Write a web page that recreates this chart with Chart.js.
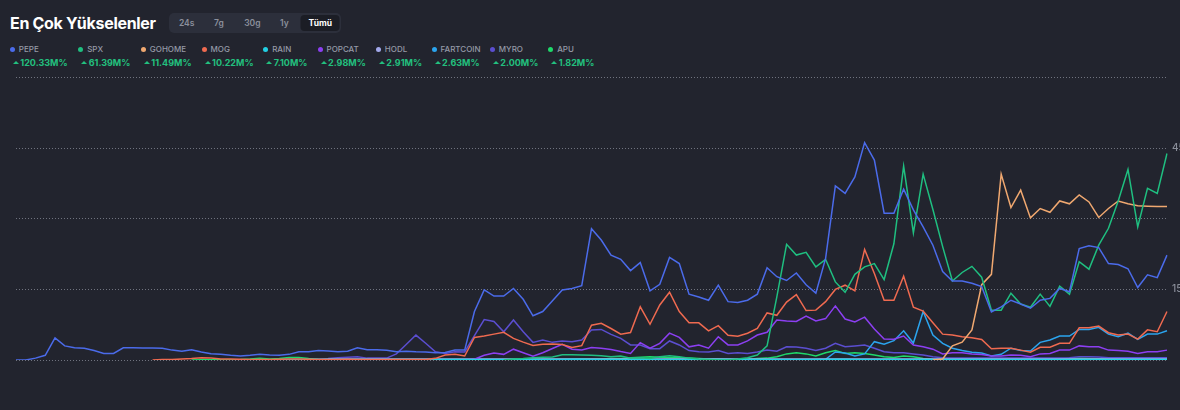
<!DOCTYPE html>
<html lang="tr">
<head>
<meta charset="utf-8">
<script src="https://cdn.jsdelivr.net/npm/chart.js@4/dist/chart.umd.min.js"></script>
<style>
  html, body { margin: 0; padding: 0; }
  body {
    width: 1180px; height: 410px; overflow: hidden; position: relative;
    background: #22242e; font-family: Inter, "Noto Sans", sans-serif; color: #fff;
  }
  .title { position: absolute; left: 10px; top: 12px; font-size: 16px; font-weight: 700; line-height: 22px; letter-spacing: -0.3px; }
  .tabs { position: absolute; left: 169px; top: 13px; width: 172px; height: 20px; background: #2c2f3b; border-radius: 5px; }
  .tab { position: absolute; top: 0; height: 20px; line-height: 20px; font-size: 8.5px; font-weight: 600; color: #8b8f9c; transform: translateX(-50%); }
  .tab.active { top: 2px; height: 16px; line-height: 16px; width: 39px; text-align: center; background: #1b1d25; border-radius: 4px; color: #fff; font-weight: 700; }
  .item { position: absolute; top: 44px; height: 26px; }
  .dot { position: absolute; left: -2.5px; top: 2.5px; width: 5px; height: 5px; border-radius: 50%; }
  .name { position: absolute; left: 6.5px; top: 0; font-size: 8px; line-height: 10px; font-weight: 500; color: #959aa7; white-space: nowrap; }
  .val { position: absolute; left: 8px; top: 13px; font-size: 9px; line-height: 12px; font-weight: 700; color: #22c07f; white-space: nowrap; }
  .caret { position: absolute; left: 0.5px; top: 17px; width: 0; height: 0; border-left: 3px solid transparent; border-right: 3px solid transparent; border-bottom: 3.5px solid #22c07f; }
  #wrap { position: absolute; left: 0; top: 70px; width: 1200px; height: 300px; }
</style>
</head>
<body>
<div class="title">En Çok Yükselenler</div>
<div class="tabs" id="tabs"></div>
<div id="legend"></div>
<div id="wrap"><canvas id="chart"></canvas></div>
<script>
const periods = ['24s', '7g', '30g', '1y', 'Tümü'];
const periodX = [17.7, 50, 83.3, 115.3, 151.3];

const names = ['PEPE', 'SPX', 'GOHOME', 'MOG', 'RAIN', 'POPCAT', 'HODL', 'FARTCOIN', 'MYRO', 'APU'];
const changes = ['120.33M%', '61.39M%', '11.49M%', '10.22M%', '7.10M%', '2.98M%', '2.91M%', '2.63M%', '2.00M%', '1.82M%'];
const colors = ['#4b6bea', '#1fbf80', '#f0a870', '#ef6a50', '#22cfe3', '#8c3ff2', '#a3a9ec', '#2ba4ee', '#5b4ed0', '#1ed96a'];
const legendX = [12.3, 80.7, 143.3, 204, 265.7, 320, 378.3, 434, 492.3, 550.7];

const yTicks = [0, 15, 30, 45, 60];
const yLabels = [15, 45];

const pepe = [
  0, 0, 0.4, 1.0, 4.7, 3.0, 2.6, 2.5, 2.0, 1.4,
  1.4, 2.6, 2.6, 2.55, 2.55, 2.5, 2.1, 1.85, 2.2, 1.7,
  1.35, 1.2, 1.0, 0.85, 1.0, 1.2, 1.05, 1.0, 1.2, 1.75,
  1.75, 2.0, 1.9, 1.75, 1.85, 2.6, 2.2, 2.2, 2.05, 1.75,
  1.85, 1.75, 1.7, 1.55, 1.6, 2.1, 2.1, 10.3, 14.9, 13.6,
  13.6, 15.2, 12.9, 9.4, 10.3, 12.6, 14.9, 15.2, 15.8, 27.9,
  25.5, 22.3, 21.4, 19.0, 20.7, 14.7, 16.1, 21.8, 20.5, 14.0,
  13.4, 12.7, 15.9, 12.4, 12.2, 12.7, 14.0, 19.6, 17.7, 16.9,
  18.5, 16.0, 14.2, 21.6, 37.0, 35.4, 38.9, 46.2, 42.5, 31.2,
  31.2, 36.3, 31.9, 28.3, 24.4, 18.8, 16.8, 16.8, 16.3, 15.6,
  10.2, 11.3, 12.7, 11.9, 11.0, 12.7, 13.1, 15.2, 14.5, 23.7,
  24.3, 23.9, 20.5, 20.3, 19.4, 15.4, 18.1, 17.5, 22.3
];
const spx = [
  null, null, null, null, null, null, null, null, null, null,
  null, null, null, null, null, null, null, null, null, null,
  null, null, null, null, null, null, null, null, null, null,
  null, null, null, null, null, null, null, null, null, null,
  null, null, null, null, null, null, null, null, null, null,
  0, 0.2, 0.3, 0.5, 0.6, 0.65, 1.1, 1.1, 1.05, 1.0,
  0.9, 0.7, 0.85, 0.4, 0.5, 0.3, 0.7, 0.9, 0.7, 0.4,
  0.2, 0.1, 0, 0, 0.2, 0.5, 1.05, 3.0, 13.4, 24.6,
  22.3, 22.9, 19.8, 21.4, 16.6, 14.4, 18.2, 19.8, 20.5, 17.1,
  24.7, 41.2, 27.0, 39.5, 32.0, 24.1, 16.8, 18.6, 19.9, 17.6,
  10.6, 10.6, 14.2, 11.9, 11.2, 14.0, 11.4, 15.7, 14.0, 20.9,
  19.3, 24.4, 28.0, 33.8, 40.5, 28.3, 36.5, 35.4, 43.9
];
const gohome = [
  null, null, null, null, null, null, null, null, null, null,
  null, null, null, null, null, null, null, null, null, null,
  null, null, null, null, null, null, null, null, null, null,
  null, null, null, null, null, null, null, null, null, null,
  null, null, null, null, null, null, null, null, null, null,
  null, null, null, null, null, null, null, null, null, null,
  null, null, null, null, null, null, null, null, null, null,
  null, null, null, null, null, null, null, null, null, null,
  null, null, null, null, null, null, null, null, null, null,
  null, null, null, null, 0, 0.2, 3.0, 3.8, 6.4, 16.0,
  18.2, 39.5, 32.4, 36.1, 30.2, 32.2, 31.4, 33.8, 33.2, 35.1,
  33.6, 30.3, 32.2, 33.8, 33.2, 32.8, 32.7, 32.6, 32.6
];
const mog = [
  null, null, null, null, null, null, null, null, null, null,
  null, null, null, null, 0, 0.1, 0.1, 0.2, 0.3, 0.5,
  0.4, 0.2, 0.2, 0.15, 0.1, 0.1, 0.1, 0.15, 0.2, 0.2,
  0.15, 0.1, 0.1, 0.1, 0.15, 0.1, 0.1, 0.1, 0.1, 0.1,
  0.1, 0.1, 0.1, 0.35, 1.05, 1.2, 0.85, 4.8, 5.1, 5.5,
  5.9, 4.6, 3.8, 3.1, 3.35, 3.4, 3.3, 2.65, 3.05, 7.4,
  7.8, 6.7, 5.5, 5.85, 11.3, 7.6, 11.7, 14.4, 10.3, 7.9,
  7.9, 6.2, 7.3, 5.25, 5.05, 5.7, 6.7, 10.0, 9.5, 12.3,
  13.9, 10.5, 10.6, 12.4, 15.0, 15.9, 14.7, 23.5, 18.4, 12.7,
  12.7, 17.8, 11.2, 10.4, 7.9, 5.5, 5.3, 4.95, 4.75, 4.35,
  2.4, 2.5, 2.5, 2.1, 1.65, 2.7, 2.7, 3.55, 3.55, 6.85,
  6.85, 7.2, 5.8, 5.3, 5.5, 4.45, 6.4, 6.0, 10.3
];
const rain = [
  null, null, null, null, null, null, null, null, null, null,
  null, null, null, null, null, null, null, null, null, null,
  null, null, null, null, null, null, null, 0.05, 0.1, 0.1,
  0.1, 0.1, 0.1, 0.1, 0.1, 0.1, 0.1, 0.1, 0.1, 0.1,
  0.1, 0.1, 0.1, 0.1, 0.1, 0.1, 0.1, 0.1, 0.1, 0.1,
  0.1, 0.1, 0.1, 0.1, 0.1, 0.1, 0.1, 0.15, 0.15, 0.1,
  0.1, 0.1, 0.1, 0.1, 0.1, 0.1, 0.1, 0.1, 0.1, 0.1,
  0.1, 0.1, 0.1, 0.1, 0.1, 0.1, 0.1, 0.1, 0.1, 0.1,
  0.1, 0.1, 0.1, 0.1, 0.15, 0.15, 0.1, 0.1, 0.1, 0.1,
  0.1, 0.1, 0.1, 0.1, 0.1, 0.1, 0.1, 0.1, 0.1, 0.1,
  0.1, 0.1, 0.1, 0.1, 0.1, 0.1, 0.1, 0.1, 0.1, 0.1,
  0.1, 0.1, 0.1, 0.1, 0.1, 0.1, 0.1, 0.1, 0.1
];
const popcat = [
  null, null, null, null, null, null, null, null, null, null,
  null, null, null, null, null, null, null, null, null, null,
  null, null, null, null, null, null, null, null, null, null,
  null, null, null, null, null, 0, 0.05, 0.05, 0.05, 0.05,
  0.05, 0.05, 0.05, 0.05, 0.05, 0.05, 0.05, 0.15, 1.0, 1.5,
  1.2, 2.3, 1.55, 0.8, 1.55, 2.45, 3.35, 2.3, 2.15, 2.65,
  2.5, 2.25, 1.8, 1.4, 3.7, 2.5, 3.55, 5.7, 4.8, 2.8,
  3.2, 2.5, 4.95, 3.2, 3.2, 4.05, 5.3, 5.9, 8.5, 8.3,
  8.2, 9.35, 8.3, 8.8, 11.5, 8.7, 8.1, 9.1, 6.6, 4.45,
  4.4, 5.1, 3.2, 2.8, 2.3, 1.3, 1.55, 1.55, 1.3, 1.15,
  0.85, 0.85, 1.05, 1.0, 0.7, 1.3, 1.4, 2.1, 2.1, 3.0,
  2.8, 2.8, 2.1, 2.0, 1.85, 1.4, 1.75, 1.75, 2.1
];
const hodl = [
  null, null, null, null, null, null, null, null, null, null,
  null, null, null, null, null, null, null, null, null, null,
  null, null, null, null, null, null, null, null, null, null,
  0.1, 0.15, 0.2, 0.2, 0.2, 0.2, 0.2, 0.2, 0.2, 0.2,
  0.2, 0.2, 0.2, 0.2, 0.2, 0.2, 0.2, 0.2, 0.2, 0.2,
  0.2, 0.2, 0.2, 0.2, 0.2, 0.2, 0.2, 0.2, 0.2, 0.2,
  0.2, 0.2, 0.2, 0.2, 0.2, 0.2, 0.2, 0.2, 0.2, 0.2,
  0.2, 0.2, 0.2, 0.2, 0.2, 0.2, 0.2, 0.2, 0.2, 0.2,
  0.2, 0.2, 0.2, 0.2, 0.2, 0.2, 0.2, 0.2, 0.2, 0.2,
  0.2, 0.2, 0.2, 0.2, 0.2, 0.2, 0.2, 0.2, 0.2, 0.2,
  0.2, 0.2, 0.2, 0.2, 0.2, 0.2, 0.2, 0.2, 0.2, 0.2,
  0.2, 0.2, 0.2, 0.2, 0.2, 0.2, 0.2, 0.2, 0.2
];
const fartcoin = [
  null, null, null, null, null, null, null, null, null, null,
  null, null, null, null, null, null, null, null, null, null,
  null, null, null, null, null, null, null, null, null, null,
  null, null, null, null, null, null, null, null, null, null,
  null, null, null, null, null, null, null, null, null, null,
  null, null, null, null, null, null, null, null, null, null,
  null, null, null, null, null, null, null, null, null, null,
  null, null, null, null, null, null, null, null, 0, 0,
  0, 0, 0.05, 0.15, 1.7, 1.5, 0.85, 1.3, 3.9, 3.35,
  4.1, 6.2, 3.6, 10.3, 5.3, 3.55, 2.5, 2.0, 1.65, 1.5,
  0.85, 1.2, 2.5, 2.0, 1.9, 3.75, 4.25, 5.1, 5.1, 6.5,
  6.5, 6.95, 5.5, 4.95, 5.7, 4.4, 5.5, 5.5, 6.2
];
const myro = [
  null, null, null, null, null, null, null, null, null, null,
  null, null, null, null, null, null, null, null, null, null,
  null, null, null, null, null, null, null, null, null, null,
  null, null, 0.3, 0.5, 0.6, 0.7, 0.4, 0.4, 0.4, 1.3,
  3.3, 5.3, 3.55, 1.75, 1.4, 1.75, 1.7, 5.2, 8.6, 8.2,
  6.0, 8.5, 6.0, 3.75, 4.25, 3.75, 4.05, 3.9, 4.25, 6.4,
  6.5, 5.45, 4.6, 3.2, 3.2, 2.4, 2.4, 4.05, 3.2, 2.0,
  1.75, 1.7, 2.0, 1.4, 1.55, 1.4, 1.7, 2.1, 1.85, 2.8,
  2.75, 2.5, 2.0, 2.5, 3.55, 2.8, 3.0, 3.2, 2.5, 1.75,
  1.55, 1.55, 1.3, 1.05, 0.7, 0.5, 0.4, 0.4, 0.4, 0.4,
  0.4, 0.4, 0.4, 0.4, 0.4, 0.4, 0.4, 0.4, 0.5, 0.7,
  0.7, 0.65, 0.5, 0.5, 0.5, 0.5, 0.5, 0.5, 0.5
];
const apu = [
  null, null, null, null, null, null, null, null, null, null,
  null, null, null, null, null, null, null, null, 0, 0.05,
  0.05, 0.05, 0.05, 0.1, 0.2, 0.35, 0.2, 0.3, 0.55, 0.55,
  0.3, 0.1, 0.05, 0.05, 0.05, 0.05, 0.05, 0.05, 0.05, 0.05,
  0.05, 0.05, 0.05, 0.05, 0.05, 0.05, 0.05, 0.05, 0.05, 0.05,
  0.05, 0.05, 0.1, 0.1, 0.1, 0.1, 0.15, 0.15, 0.2, 0.2,
  0.2, 0.3, 0.3, 0.5, 0.6, 0.7, 0.6, 0.5, 0.5, 0.4,
  0.3, 0.2, 0.2, 0.15, 0.1, 0.1, 0.3, 0.4, 0.7, 1.3,
  1.55, 1.3, 0.85, 1.55, 2.0, 1.4, 1.55, 1.4, 1.05, 0.7,
  0.55, 0.85, 0.7, 0.3, 0.15, 0.1, 0.1, 0.1, 0.1, 0.1,
  0.1, 0.1, 0.1, 0.1, 0.1, 0.1, 0.15, 0.2, 0.3, 0.35,
  0.3, 0.25, 0.2, 0.2, 0.15, 0.15, 0.15, 0.15, 0.15
];

const seriesData = [pepe, spx, gohome, mog, rain, popcat, hodl, fartcoin, myro, apu];
const labels = pepe.map((_, i) => i + 1);

// header: period tabs + legend
const tabs = document.getElementById('tabs');
periods.forEach((p, i) => {
  const el = document.createElement('div');
  el.className = 'tab' + (p === 'Tümü' ? ' active' : '');
  el.style.left = periodX[i] + 'px';
  el.textContent = p;
  tabs.appendChild(el);
});

const legend = document.getElementById('legend');
names.forEach((n, i) => {
  const item = document.createElement('div');
  item.className = 'item';
  item.style.left = legendX[i] + 'px';
  item.innerHTML = `<span class="dot" style="background:${colors[i]}"></span>
    <span class="name">${n}</span>
    <span class="caret"></span>
    <span class="val">${changes[i]}</span>`;
  legend.appendChild(item);
});

new Chart(document.getElementById('chart'), {
  type: 'line',
  data: {
    labels,
    datasets: names.map((n, i) => ({
      label: n, data: seriesData[i], borderColor: colors[i], backgroundColor: colors[i],
      borderWidth: 1.5, pointRadius: 0, tension: 0, spanGaps: false
    }))
  },
  options: {
    responsive: true, maintainAspectRatio: false, animation: false,
    layout: { padding: { left: 16, right: 0, top: 7.7, bottom: 10 } },
    plugins: { legend: { display: false }, tooltip: { enabled: false } },
    scales: {
      x: { display: false },
      y: {
        position: 'right', min: 0, max: 60,
        afterBuildTicks: s => { s.ticks = yTicks.map(v => ({ value: v })); },
        // fixed axis width, no extra label padding: plot area spans 16..1167 x 77.7..360
        afterFit: s => { s.width = 33; s.paddingTop = 0; s.paddingBottom = 0; },
        border: { display: false, dash: [1, 2] },
        grid: { color: '#70737f', lineWidth: 1, drawTicks: false },
        ticks: {
          padding: 5, color: '#8a8e99', font: { family: 'Inter', size: 10, weight: '500' },
          callback: v => yLabels.includes(v) ? String(v) : ''
        }
      }
    }
  }
});
</script>
</body>
</html>
